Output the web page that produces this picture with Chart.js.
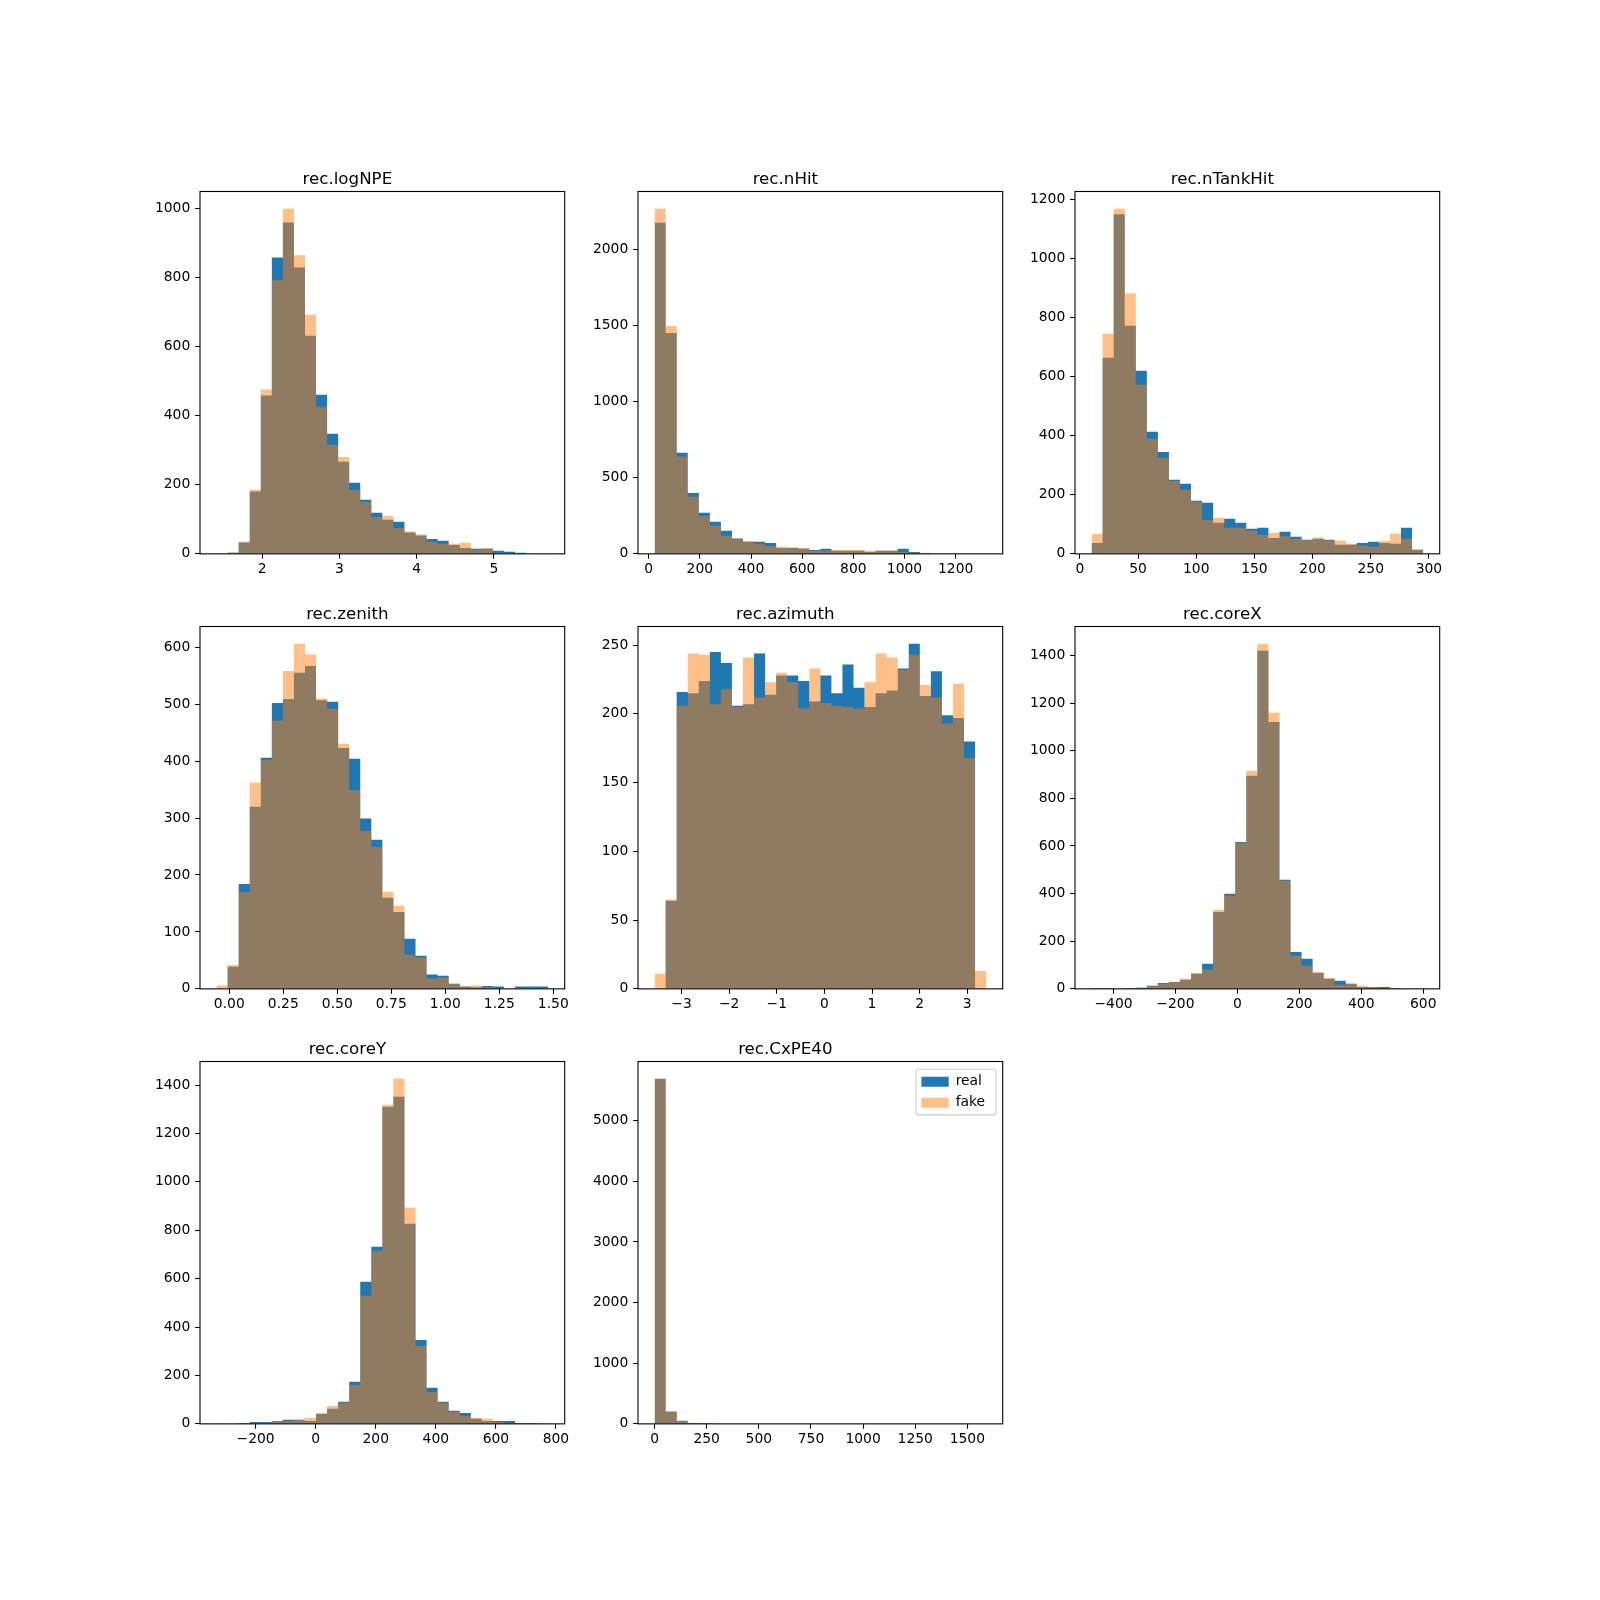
<!DOCTYPE html>
<html>
<head>
<meta charset="utf-8">
<script src="https://cdn.jsdelivr.net/npm/chart.js@4.4.1/dist/chart.umd.min.js"></script>
<style>
html, body { margin: 0; padding: 0; background: #ffffff; }
#fig { position: relative; width: 1600px; height: 1600px; overflow: hidden; background: #ffffff; }
#fig canvas { position: absolute; }
</style>
</head>
<body>
<div id="fig"></div>
<script>
// ---------------- data (30 shared bins per variable, [low, high] bin range) ----------------
const seriesNames = ['real', 'fake'];

const logNPE_range = [1.408, 5.703];
const logNPE_real = [0, 3, 33, 181, 459, 859, 960, 830, 632, 461, 348, 267, 206, 157, 119, 99, 93, 62, 53, 43, 38, 26, 17, 15, 15, 9, 6, 3, 0, 1];
const logNPE_fake = [1, 4, 35, 186, 476, 793, 1000, 865, 693, 426, 316, 281, 186, 151, 107, 110, 75, 65, 56, 35, 29, 29, 32, 12, 17, 3, 1, 0, 0, 0];
const logNPE_xticks = [2, 3, 4, 5];
const logNPE_xlabels = ['2', '3', '4', '5'];
const logNPE_yticks = [0, 200, 400, 600, 800, 1000];

const nHit_range = [23, 1319];
const nHit_real = [2173, 1449, 664, 400, 269, 210, 151, 100, 79, 79, 72, 39, 40, 33, 26, 33, 20, 20, 20, 13, 20, 20, 33, 13, 2, 1, 0, 0, 0, 1];
const nHit_fake = [2264, 1495, 638, 374, 249, 184, 118, 101, 85, 66, 52, 46, 39, 40, 20, 20, 26, 26, 26, 20, 20, 20, 13, 7, 7, 0, 0, 0, 0, 0];
const nHit_xticks = [0, 200, 400, 600, 800, 1000, 1200];
const nHit_xlabels = ['0', '200', '400', '600', '800', '1000', '1200'];
const nHit_yticks = [0, 500, 1000, 1500, 2000];

const nTankHit_range = [10, 295];
const nTankHit_real = [37, 664, 1149, 772, 620, 413, 345, 251, 237, 180, 173, 105, 119, 105, 85, 88, 54, 75, 58, 48, 51, 48, 31, 31, 37, 41, 37, 34, 88, 14];
const nTankHit_fake = [68, 745, 1168, 881, 572, 389, 325, 247, 217, 176, 115, 122, 88, 88, 78, 64, 71, 60, 51, 47, 55, 45, 45, 34, 28, 24, 44, 68, 51, 14];
const nTankHit_xticks = [0, 50, 100, 150, 200, 250, 300];
const nTankHit_xlabels = ['0', '50', '100', '150', '200', '250', '300'];
const nTankHit_yticks = [0, 200, 400, 600, 800, 1000, 1200];

const zenith_range = [-0.0589, 1.476];
const zenith_real = [0, 39, 184, 320, 406, 502, 509, 555, 567, 507, 504, 423, 404, 299, 262, 160, 135, 88, 58, 25, 23, 9, 4, 3, 5, 4, 0, 4, 4, 4];
const zenith_fake = [6, 42, 170, 362, 402, 471, 558, 606, 587, 510, 492, 430, 349, 277, 249, 170, 146, 60, 55, 18, 20, 9, 4, 6, 3, 1, 0, 0, 0, 0];
const zenith_xticks = [0, 0.25, 0.5, 0.75, 1.0, 1.25, 1.5];
const zenith_xlabels = ['0.00', '0.25', '0.50', '0.75', '1.00', '1.25', '1.50'];
const zenith_yticks = [0, 100, 200, 300, 400, 500, 600];

const azimuth_range = [-3.567, 3.397];
const azimuth_real = [0, 64, 216, 215, 224, 245, 237, 206, 207, 244, 214, 228, 228, 224, 209, 228, 215, 236, 219, 205, 215, 217, 233, 251, 213, 231, 199, 197, 180, 0];
const azimuth_fake = [11, 65, 206, 244, 243, 207, 218, 205, 241, 212, 223, 230, 223, 204, 233, 208, 206, 205, 204, 223, 244, 241, 232, 243, 221, 212, 193, 222, 168, 13];
const azimuth_xticks = [-3, -2, -1, 0, 1, 2, 3];
const azimuth_xlabels = ['\u22123', '\u22122', '\u22121', '0', '1', '2', '3'];
const azimuth_yticks = [0, 50, 100, 150, 200, 250];

const coreX_range = [-470.7, 599.7];
const coreX_real = [4, 4, 0, 4, 4, 13, 25, 29, 38, 63, 105, 323, 399, 617, 895, 1420, 1121, 458, 155, 126, 67, 42, 34, 21, 8, 8, 8, 4, 0, 0];
const coreX_fake = [0, 0, 0, 1, 8, 13, 21, 30, 42, 67, 80, 332, 391, 613, 916, 1449, 1159, 454, 139, 97, 71, 46, 17, 21, 13, 8, 4, 0, 0, 1];
const coreX_xticks = [-400, -200, 0, 200, 400, 600];
const coreX_xlabels = ['\u2212400', '\u2212200', '0', '200', '400', '600'];
const coreX_yticks = [0, 200, 400, 600, 800, 1000, 1200, 1400];

const coreY_range = [-329.9, 774];
const coreY_real = [0, 0, 4, 8, 8, 12, 17, 17, 12, 41, 62, 91, 174, 587, 732, 1310, 1352, 827, 347, 149, 91, 54, 45, 21, 12, 12, 12, 4, 4, 0];
const coreY_fake = [1, 0, 4, 4, 5, 12, 12, 17, 25, 45, 74, 87, 161, 529, 715, 1319, 1426, 893, 322, 132, 87, 50, 33, 25, 21, 8, 4, 4, 4, 4];
const coreY_xticks = [-200, 0, 200, 400, 600, 800];
const coreY_xlabels = ['\u2212200', '0', '200', '400', '600', '800'];
const coreY_yticks = [0, 200, 400, 600, 800, 1000, 1200, 1400];

const CxPE40_range = [0, 1590];
const CxPE40_real = [5690, 198, 50, 16, 14, 4, 2, 1, 1, 0, 0, 0, 0, 0, 0, 0, 0, 0, 0, 0, 0, 0, 0, 0, 0, 0, 0, 0, 0, 1];
const CxPE40_fake = [5688, 214, 48, 17, 15, 3, 2, 1, 0, 0, 0, 0, 0, 0, 0, 0, 0, 0, 0, 0, 0, 0, 0, 0, 0, 0, 0, 0, 0, 0];
const CxPE40_xticks = [0, 250, 500, 750, 1000, 1250, 1500];
const CxPE40_xlabels = ['0', '250', '500', '750', '1000', '1250', '1500'];
const CxPE40_yticks = [0, 1000, 2000, 3000, 4000, 5000];

// ---------------- layout / style ----------------
const FONT = "'DejaVu Sans', 'Liberation Sans', sans-serif";
const REAL_COLOR = '#1f77b4';
const FAKE_COLOR = 'rgba(255,127,14,0.5)';
const AX_W = 364.706, AX_H = 362.353;
const COL_LEFT = [200, 637.647, 1075.294];
const ROW_TOP = [192, 626.824, 1061.647];
const CANVAS_W = 470, CANVAS_H = 440;
const Y_AXIS_W = 70, X_AXIS_H = 40;
const TITLE_PAD_TOP = 12, TITLE_PAD_BOTTOM = 1.5, TITLE_SIZE = 16.67;
const TITLE_H = TITLE_PAD_TOP + TITLE_SIZE * 1.2 + TITLE_PAD_BOTTOM;

const panels = [
  { title: 'rec.logNPE', range: logNPE_range, real: logNPE_real, fake: logNPE_fake, xticks: logNPE_xticks, xlabels: logNPE_xlabels, yticks: logNPE_yticks, row: 0, col: 0 },
  { title: 'rec.nHit', range: nHit_range, real: nHit_real, fake: nHit_fake, xticks: nHit_xticks, xlabels: nHit_xlabels, yticks: nHit_yticks, row: 0, col: 1 },
  { title: 'rec.nTankHit', range: nTankHit_range, real: nTankHit_real, fake: nTankHit_fake, xticks: nTankHit_xticks, xlabels: nTankHit_xlabels, yticks: nTankHit_yticks, row: 0, col: 2 },
  { title: 'rec.zenith', range: zenith_range, real: zenith_real, fake: zenith_fake, xticks: zenith_xticks, xlabels: zenith_xlabels, yticks: zenith_yticks, row: 1, col: 0 },
  { title: 'rec.azimuth', range: azimuth_range, real: azimuth_real, fake: azimuth_fake, xticks: azimuth_xticks, xlabels: azimuth_xlabels, yticks: azimuth_yticks, row: 1, col: 1 },
  { title: 'rec.coreX', range: coreX_range, real: coreX_real, fake: coreX_fake, xticks: coreX_xticks, xlabels: coreX_xlabels, yticks: coreX_yticks, row: 1, col: 2 },
  { title: 'rec.coreY', range: coreY_range, real: coreY_real, fake: coreY_fake, xticks: coreY_xticks, xlabels: coreY_xlabels, yticks: coreY_yticks, row: 2, col: 0 },
  { title: 'rec.CxPE40', range: CxPE40_range, real: CxPE40_real, fake: CxPE40_fake, xticks: CxPE40_xticks, xlabels: CxPE40_xlabels, yticks: CxPE40_yticks, row: 2, col: 1, legend: true }
];

// histogram outline points for a stepped, filled line: one point per bin left edge, plus the last right edge
function histPoints(range, counts) {
  const n = counts.length;
  const w = (range[1] - range[0]) / n;
  const pts = counts.map((c, i) => ({ x: range[0] + i * w, y: c }));
  pts.push({ x: range[1], y: counts[n - 1] });
  return pts;
}

const alignPlugin = {
  id: 'aligner',
  afterLayout(chart, args, opts) {
    const a = chart.chartArea;
    chart.canvas.style.left = (opts.left - a.left) + 'px';
    chart.canvas.style.top = (opts.top - a.top) + 'px';
    if (opts.legend && chart.legend) {
      chart.legend.left = a.right - 88.4;
      chart.legend.top = a.top + 6.3;
    }
  },
  beforeDraw(chart, args, opts) {
    if (!opts.legend) return;
    const a = chart.chartArea, ctx = chart.ctx;
    ctx.save();
    ctx.beginPath();
    ctx.roundRect(a.right - 86.7, a.top + 7.7, 80, 45.7, 3);
    ctx.fillStyle = 'rgba(255,255,255,0.8)';
    ctx.fill();
    ctx.lineWidth = 1.1;
    ctx.strokeStyle = '#cccccc';
    ctx.stroke();
    ctx.restore();
  },
  afterDatasetsDraw(chart) {
    const a = chart.chartArea, ctx = chart.ctx;
    ctx.save();
    ctx.strokeStyle = '#000000';
    ctx.lineWidth = 1.1;
    ctx.strokeRect(a.left, a.top, a.right - a.left, a.bottom - a.top);
    ctx.restore();
  }
};

const fig = document.getElementById('fig');
const tickFont = { family: FONT, size: 13.89 };
const gridOpts = { drawOnChartArea: false, drawTicks: true, tickLength: 4.86, tickWidth: 1.1, tickColor: '#000000' };

panels.forEach(p => {
  const canvas = document.createElement('canvas');
  canvas.width = CANVAS_W;
  canvas.height = CANVAS_H;
  canvas.style.width = CANVAS_W + 'px';
  canvas.style.height = CANVAS_H + 'px';
  const tLeft = COL_LEFT[p.col], tTop = ROW_TOP[p.row];
  canvas.style.left = (tLeft - Y_AXIS_W) + 'px';
  canvas.style.top = (tTop - TITLE_H) + 'px';
  fig.appendChild(canvas);

  const span = p.range[1] - p.range[0];
  const xmin = p.range[0] - 0.05 * span;
  const xmax = p.range[1] + 0.05 * span;
  const ymax = 1.05 * Math.max(Math.max(...p.real), Math.max(...p.fake));
  const padRight = CANVAS_W - Y_AXIS_W - AX_W;
  const padBottom = CANVAS_H - TITLE_H - AX_H - X_AXIS_H;

  new Chart(canvas, {
    type: 'line',
    data: {
      datasets: [
        { label: seriesNames[0], data: histPoints(p.range, p.real), stepped: true, fill: 'origin',
          backgroundColor: REAL_COLOR, borderColor: 'rgba(0,0,0,0)', borderWidth: 0,
          pointRadius: 0, pointHoverRadius: 0, tension: 0, order: 2 },
        { label: seriesNames[1], data: histPoints(p.range, p.fake), stepped: true, fill: 'origin',
          backgroundColor: FAKE_COLOR, borderColor: 'rgba(0,0,0,0)', borderWidth: 0,
          pointRadius: 0, pointHoverRadius: 0, tension: 0, order: 1 }
      ]
    },
    options: {
      animation: false,
      responsive: false,
      devicePixelRatio: 1,
      events: [],
      layout: { padding: { top: 0, left: 0, right: padRight, bottom: padBottom } },
      plugins: {
        aligner: { left: tLeft, top: tTop, legend: !!p.legend },
        title: { display: true, text: p.title, color: '#000000',
          font: { family: FONT, size: TITLE_SIZE, weight: 'normal', lineHeight: 1.2 },
          padding: { top: TITLE_PAD_TOP, bottom: TITLE_PAD_BOTTOM } },
        legend: p.legend ? {
          display: true, position: 'chartArea', align: 'start',
          labels: { boxWidth: 27.3, boxHeight: 10, padding: 7.1, color: '#000000',
            font: { family: FONT, size: 13.89 },
            sort: (a, b) => a.datasetIndex - b.datasetIndex }
        } : { display: false },
        tooltip: { enabled: false }
      },
      scales: {
        x: {
          type: 'linear', min: xmin, max: xmax, bounds: 'data',
          afterFit(s) { s.height = X_AXIS_H; },
          afterBuildTicks(s) { s.ticks = p.xticks.map(v => ({ value: v })); },
          ticks: { callback: (v, i) => p.xlabels[i], autoSkip: false, maxRotation: 0, minRotation: 0,
            color: '#000000', font: tickFont, padding: 2.5 },
          grid: gridOpts,
          border: { display: false }
        },
        y: {
          type: 'linear', min: 0, max: ymax, bounds: 'data',
          afterFit(s) { s.width = Y_AXIS_W; },
          afterBuildTicks(s) { s.ticks = p.yticks.map(v => ({ value: v })); },
          ticks: { callback: (v, i) => String(p.yticks[i]), autoSkip: false,
            color: '#000000', font: tickFont, padding: 4.86 },
          grid: gridOpts,
          border: { display: false }
        }
      }
    },
    plugins: [alignPlugin]
  });
});
</script>
</body>
</html>
